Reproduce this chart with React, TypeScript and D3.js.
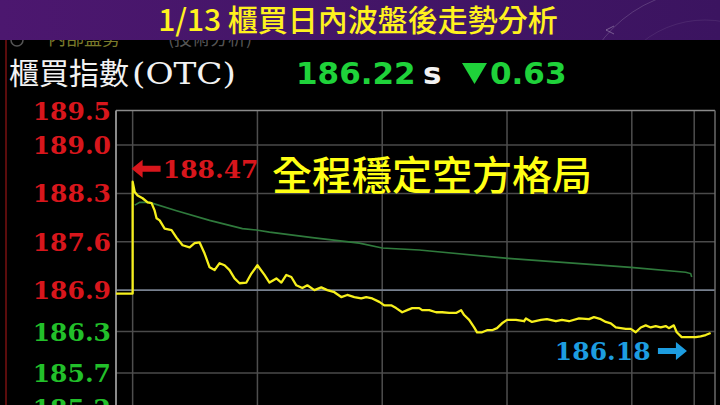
import React from "react";
import * as d3 from "d3";

// ---------- data ----------
const TITLE = "1/13 櫃買日內波盤後走勢分析";
const INDEX_NAME = "櫃買指數";
const INDEX_CODE = "(OTC)";
const LAST_PRICE = "186.22";
const CHANGE = "0.63";
const NOTE = "全程穩定空方格局";
const HIGH_LABEL = "188.47";
const LOW_LABEL = "186.18";

const TICK_VALUES = [189.5, 189.0, 188.3, 187.6, 186.9, 186.3, 185.7, 185.2];
const TICK_LABELS = ["189.5", "189.0", "188.3", "187.6", "186.9", "186.3", "185.7", "185.2"];
const PREV_CLOSE = 186.9;
const HOUR_MARKS = [0, 60, 120, 180, 240, 270]; // minutes after 09:00

// minutes after 09:00
const PRICE_T = [
  -8, 0, 0, 1, 2.4, 4.8, 7.2, 9.1, 10.6, 11.5, 13, 15.4, 18.7, 21.1, 24, 27.4, 29.8, 32.2, 34.6, 37,
  39.4, 41.8, 44.2, 46.6, 49, 51.4, 54.7, 57.1, 60, 63.4, 65.8, 69.1, 71.5, 73.9, 76.3, 78.7, 81.6, 84,
  87.4, 90.7, 93.6, 97, 100.3, 103.2, 106.6, 109.9, 112.3, 115.2, 118.6, 121, 124.3, 126.7, 129.6, 132,
  134.4, 137.8, 139.2, 142.6, 145.9, 148.8, 152.2, 155.5, 157.9, 159.4, 161.8, 164.2, 165.6, 168, 170.4,
  172.8, 175.2, 177.6, 180, 184.3, 188.2, 189.1, 192, 196.3, 199.2, 203.5, 206.4, 209.8, 214.6, 219.4,
  221.8, 225.1, 227.5, 229.9, 232.3, 234.7, 237.1, 239.5, 241.9, 244.3, 246.7, 249.1, 251.5, 253.9,
  256.3, 257.8, 260.2, 261.6, 264, 267.4, 270.7, 273.1, 275.5, 277.9,
];
const PRICE_V = [
  186.85, 186.85, 188.47, 188.32, 188.27, 188.23, 188.17, 188.16, 188.05, 187.94, 187.91, 187.79, 187.77,
  187.66, 187.55, 187.52, 187.58, 187.59, 187.43, 187.23, 187.19, 187.29, 187.26, 187.19, 187.07, 187.0,
  187.01, 187.14, 187.26, 187.12, 187.01, 187.07, 187.01, 187.12, 187.09, 186.97, 186.93, 186.97, 186.9,
  186.94, 186.9, 186.87, 186.8, 186.83, 186.8, 186.78, 186.8, 186.78, 186.73, 186.68, 186.68, 186.64,
  186.58, 186.61, 186.64, 186.64, 186.61, 186.61, 186.58, 186.58, 186.57, 186.57, 186.61, 186.54, 186.47,
  186.36, 186.29, 186.29, 186.32, 186.32, 186.35, 186.42, 186.47, 186.47, 186.45, 186.49, 186.44, 186.47,
  186.48, 186.45, 186.47, 186.45, 186.49, 186.48, 186.51, 186.48, 186.44, 186.42, 186.36, 186.35, 186.34,
  186.34, 186.29, 186.36, 186.39, 186.36, 186.38, 186.36, 186.38, 186.35, 186.39, 186.29, 186.22, 186.22,
  186.22, 186.23, 186.25, 186.28,
];

const AVG_T = [1, 3.4, 8.2, 21.1, 37, 52.8, 59.5, 65.8, 86.4, 109, 120, 137.8, 180.5, 239.5, 265.9, 268.3, 268.8];
const AVG_V = [188.13, 188.17, 188.17, 188.05, 187.91, 187.79, 187.77, 187.74, 187.66, 187.58, 187.51, 187.48, 187.36, 187.23, 187.16, 187.14, 187.09];

// ---------- chart ----------
const W = 720;
const H = 405;

export default function App() {
  const x = d3.scaleLinear().domain([-8, 280]).range([116, 715]);
  const y = d3.scaleLinear().domain([185.2, 189.5]).range([407.6, 110.5]);

  const priceData = PRICE_T.map((t, i) => [t, PRICE_V[i]] as [number, number]);
  const avgData = AVG_T.map((t, i) => [t, AVG_V[i]] as [number, number]);
  const line = d3
    .line<[number, number]>()
    .x((d) => x(d[0]))
    .y((d) => y(d[1]));

  const left = x(-8);
  const right = x(280);
  const top = y(189.5);

  const highY = y(188.47) - 13;
  const lowY = y(186.18) + 11;

  return (
    <div style={{ position: "absolute", left: 0, top: 0, width: W, height: H }}>
      <svg width={W} height={H} viewBox={`0 0 ${W} ${H}`} style={{ display: "block" }}>
        <defs>
          <linearGradient id="hdr" x1="0" x2="1" y1="0" y2="0">
            <stop offset="0" stopColor="#4c176f" />
            <stop offset="1" stopColor="#3b1460" />
          </linearGradient>
          <clipPath id="hdrClip">
            <rect x={0} y={0} width={W} height={40} />
          </clipPath>
        </defs>
        <rect x={0} y={0} width={W} height={H} fill="#000" />

        {/* dark red left edge */}
        <line x1={6} x2={6} y1={40} y2={H} stroke="#5a0c0c" strokeWidth={2} />

        {/* partially hidden sub caption */}
        <g fontFamily="'Noto Sans CJK TC'" fontSize={18}>
          <circle cx={17} cy={40} r={6} fill="none" stroke="#555" strokeWidth={1.5} />
          <text x={48} y={45} fill="#7a7a2a">內部盤勢</text>
          <text x={168} y={45} fill="#555">(技術分析)</text>
        </g>

        {/* header band */}
        <rect x={0} y={0} width={W} height={40} fill="url(#hdr)" />
        <g clipPath="url(#hdrClip)" fill="none" stroke="#ffffff" strokeOpacity={0.16}>
          <circle cx={705} cy={120} r={130} />
          <circle cx={705} cy={120} r={100} strokeOpacity={0.08} />
          <circle cx={700} cy={140} r={70} strokeOpacity={0.1} />
          <path d="M614,26 L606,30 L614,34" strokeOpacity={0.3} />
        </g>
        <text
          x={358}
          y={31}
          textAnchor="middle"
          fill="#fff21e"
          fontFamily="'Noto Sans CJK TC'"
          fontWeight={500}
          fontSize={30}
        >
          {TITLE}
        </text>

        {/* index name & price */}
        <text x={9} y={84} fill="#f2f2f2" fontFamily="'Noto Sans CJK TC'" fontSize={30}>
          {INDEX_NAME}
        </text>
        <text
          x={132}
          y={84}
          fill="#f2f2f2"
          fontFamily="'DejaVu Serif'"
          fontSize={29}
          textLength={104}
          lengthAdjust="spacingAndGlyphs"
        >
          {INDEX_CODE}
        </text>
        <text x={296} y={84} fill="#1fd23a" fontFamily="'DejaVu Sans'" fontWeight="bold" fontSize={31}>
          {LAST_PRICE}
        </text>
        <text x={423} y={84} fill="#f2f2f2" fontFamily="'DejaVu Sans'" fontWeight="bold" fontSize={31}>
          s
        </text>
        <path d="M462,63 L487,63 L474.5,84 Z" fill="#1fd23a" />
        <text x={490} y={84} fill="#1fd23a" fontFamily="'DejaVu Sans'" fontWeight="bold" fontSize={31}>
          {CHANGE}
        </text>

        {/* grid */}
        <g>
          {TICK_VALUES.slice(1).map((v, i) =>
            v === PREV_CLOSE ? null : (
              <line key={"h" + i} x1={left} x2={right} y1={y(v)} y2={y(v)} stroke="#4a4a4a" strokeWidth={1.5} />
            )
          )}
          {HOUR_MARKS.map((m) => (
            <line key={"v" + m} x1={x(m)} x2={x(m)} y1={top} y2={H} stroke="#4e4e4e" strokeWidth={1.5} />
          ))}
          <line x1={left} x2={right} y1={y(PREV_CLOSE)} y2={y(PREV_CLOSE)} stroke="#77808f" strokeWidth={1.8} />
          <line x1={left} x2={right} y1={top} y2={top} stroke="#8a8a8a" strokeWidth={1.5} />
          <line x1={left} x2={left} y1={top} y2={H} stroke="#9a9a9a" strokeWidth={1.8} />
          <line x1={right} x2={right} y1={top} y2={H} stroke="#6a6a6a" strokeWidth={1.5} />
        </g>

        {/* tick labels */}
        <g fontFamily="'DejaVu Serif'" fontWeight="bold" fontSize={25} textAnchor="end">
          {TICK_VALUES.map((v, i) => (
            <text
              key={"t" + i}
              x={111}
              y={y(v)}
              dy="0.36em"
              fill={v >= PREV_CLOSE ? "#d8161c" : "#22c02a"}
            >
              {TICK_LABELS[i]}
            </text>
          ))}
        </g>

        {/* average line */}
        <path d={line(avgData) || ""} fill="none" stroke="#2f7a3c" strokeWidth={1.6} />
        {/* price line */}
        <path d={line(priceData) || ""} fill="none" stroke="#f6ef1c" strokeWidth={2.3} strokeLinejoin="round" />

        {/* high annotation */}
        <g fill="#d8161c">
          <path d={`M${x(-0.5)},${highY} l11,-9 l0,6 l18,0 l0,6 l-18,0 l0,6 Z`} />
          <text x={x(14.5)} y={highY} dy="0.36em" fontFamily="'DejaVu Serif'" fontWeight="bold" fontSize={25}>
            {HIGH_LABEL}
          </text>
        </g>

        {/* low annotation */}
        <g fill="#1d9de0">
          <text x={x(203)} y={lowY} dy="0.36em" fontFamily="'DejaVu Serif'" fontWeight="bold" fontSize={25}>
            {LOW_LABEL}
          </text>
          <path d={`M${x(266.5)},${lowY} l-11,-9 l0,6 l-18,0 l0,6 l18,0 l0,6 Z`} />
        </g>

        {/* note */}
        <text x={272} y={190} fill="#ffff14" fontFamily="'Noto Sans CJK TC'" fontWeight={500} fontSize={40}>
          {NOTE}
        </text>
      </svg>
    </div>
  );
}
